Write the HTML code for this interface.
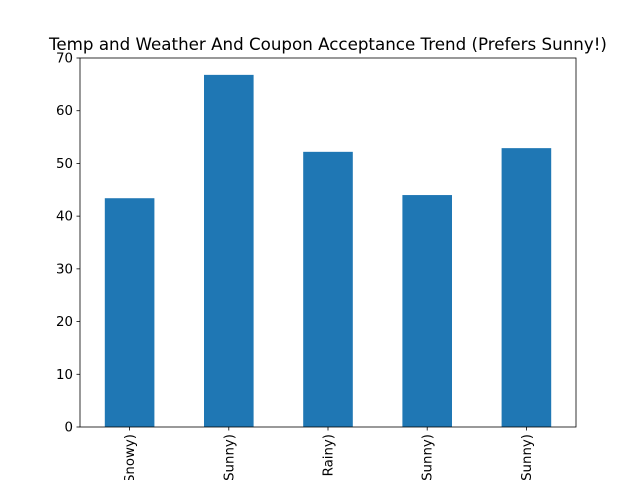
<!DOCTYPE html>
<html><head><meta charset="utf-8"><style>
html,body{margin:0;padding:0;background:#fff;width:640px;height:480px;overflow:hidden}
svg{display:block;overflow:hidden}
svg text{font-family:"DejaVu Sans","Liberation Sans",sans-serif;fill:#000}
</style></head><body>
<svg id="chart" width="640" height="480" viewBox="0 0 640 480">
<defs><clipPath id="frameclip"><rect x="0" y="0" width="640" height="480"/></clipPath></defs>
<g id="xlabels" clip-path="url(#frameclip)"></g>
</svg>
<script>
const categories = ["(30, Snowy)", "(55, Sunny)", "(80, Rainy)", "(55, Sunny)", "(80, Sunny)"];
const values = [43.4, 66.8, 52.2, 44.0, 52.9];
const yTicks = [0, 10, 20, 30, 40, 50, 60, 70];

const svg = document.getElementById('chart');
const xg = document.getElementById('xlabels');
const NS = 'http://www.w3.org/2000/svg';
const L = 80, R = 576, T = 58, B = 427, yMax = 70;
const y = v => B - (v / yMax) * (B - T);
const step = (R - L) / categories.length;
const x = i => L + step * (i + 0.5);
function mk(tag, attrs, txt, parent) {
  const e = document.createElementNS(NS, tag);
  for (const k in attrs) e.setAttribute(k, attrs[k]);
  if (txt !== undefined) e.textContent = txt;
  (parent || svg).appendChild(e);
  return e;
}
values.forEach((v, i) => {
  const r = mk('rect', {x: x(i) - step / 4, y: y(v), width: step / 2, height: B - y(v), fill: '#1f77b4'});
  
  
});
yTicks.forEach(t => {
  const l = mk('line', {x1: L - 3.5, x2: L, y1: y(t), y2: y(t), stroke: '#000', 'stroke-width': 0.8});
  
  
  const tx = mk('text', {x: L - 7, y: y(t) + 4.5, 'text-anchor': 'end', 'font-size': 13.33}, t);
  
  
});
categories.forEach((c, i) => {
  const l = mk('line', {x1: x(i), x2: x(i), y1: B, y2: B + 3.5, stroke: '#000', 'stroke-width': 0.8});
  
  
  const tx = mk('text', {x: 0, y: 0, 'text-anchor': 'end', 'font-size': 13.33,
    transform: 'translate(' + (x(i) + 4.5) + ',' + (B + 7) + ') rotate(-90)'}, c, xg);
  
  
});
const frame = mk('rect', {x: L, y: T, width: R - L, height: B - T, fill: 'none', stroke: '#000', 'stroke-width': 0.8});


const title = mk('text', {x: (L + R) / 2, y: T - 8, 'text-anchor': 'middle', 'font-size': 16.7}, 'Temp and Weather And Coupon Acceptance Trend (Prefers Sunny!)');


</script>
</body></html>
